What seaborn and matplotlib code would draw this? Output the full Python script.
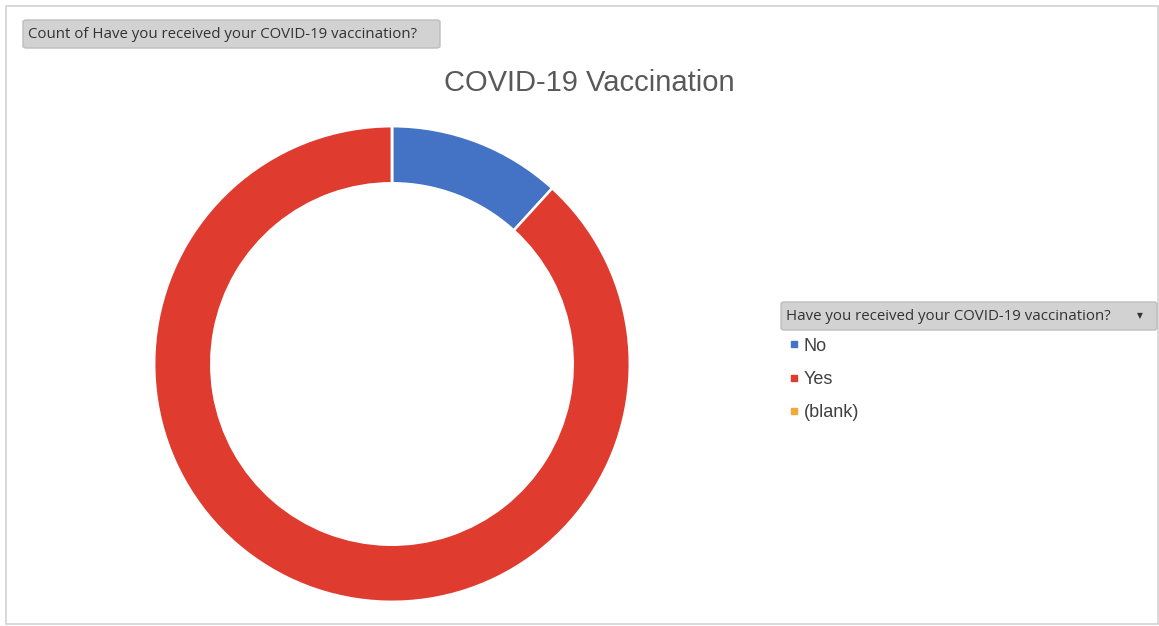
import matplotlib
matplotlib.use("Agg")
import matplotlib.pyplot as plt
import seaborn as sns
from matplotlib.lines import Line2D
from matplotlib.patches import FancyBboxPatch, Rectangle

# ---------------------------------------------------------------------------
# data
# ---------------------------------------------------------------------------
answers = ["No", "Yes", "(blank)"]
counts = [2, 15, 0]
colors = ["#4472C4", "#DF3B2F", "#F2A93B"]

title = "COVID-19 Vaccination"
field_button = "Count of Have you received your COVID-19 vaccination?"
legend_button = "Have you received your COVID-19 vaccination?"

sns.set_theme(style="white")
plt.rcParams["font.family"] = ["Liberation Sans", "DejaVu Sans"]

W, H = 1159, 626
fig = plt.figure(figsize=(W / 100, H / 100), dpi=100)
fig.patch.set_facecolor("white")


def fx(px):
    return px / W


def fy(py):
    return 1 - py / H


# outer frame of the pivot chart
fig.patches.append(Rectangle((fx(6), fy(624)), fx(1152), (618) / H,
                             transform=fig.transFigure, fill=False,
                             edgecolor="#d2d2d2", linewidth=1.2))

# --- donut ---
cx, cy, R = 392, 364, 239
ax = fig.add_axes([fx(cx - R), fy(cy + R), 2 * R / W, 2 * R / H])
ax.pie(counts, colors=colors, startangle=90, counterclock=False,
       radius=1.0,
       wedgeprops=dict(width=0.24, edgecolor="white", linewidth=1.8))
ax.set_xlim(-1.005, 1.005)
ax.set_ylim(-1.005, 1.005)
ax.set_aspect("equal")
ax.axis("off")

# title
fig.text(fx(589), fy(83), title, ha="center", va="center",
         fontsize=21, color="#595959")


# gray field buttons
def button(x0, y0, x1, y1, label, arrow=False):
    fig.patches.append(FancyBboxPatch(
        (fx(x0), fy(y1)), fx(x1 - x0), (y1 - y0) / H,
        boxstyle="round,pad=0,rounding_size=0.003",
        transform=fig.transFigure, facecolor="#d2d2d2",
        edgecolor="#bdbdbd", linewidth=1.0))
    fig.text(fx(x0 + 5), fy((y0 + y1) / 2 + 1), label, ha="left", va="center",
             fontsize=10.8, color="#333333",
             family=["Open Sans", "DejaVu Sans"])
    if arrow:
        fig.text(fx(x1 - 17), fy((y0 + y1) / 2), "\u25BC", ha="center",
                 va="center", fontsize=5.5, color="#333333",
                 family=["DejaVu Sans"])


button(23, 20, 440, 48, field_button)
button(781, 302, 1157, 330, legend_button, arrow=True)

# legend
handles = [Line2D([], [], linestyle="none", marker="s", markersize=4,
                  markerfacecolor=c, markeredgecolor=c) for c in colors]
fig.legend(handles, answers, loc="upper left",
           bbox_to_anchor=(fx(785), fy(334)), frameon=False,
           fontsize=13, labelcolor="#404040", handlelength=0.6,
           handletextpad=0.25, labelspacing=0.9, borderaxespad=0,
           borderpad=0.2)

fig.savefig("out.png", dpi=100, facecolor="white")
